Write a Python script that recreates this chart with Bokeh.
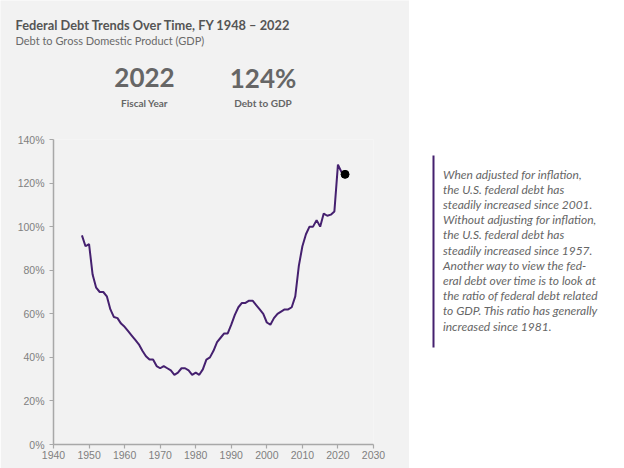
from bokeh.plotting import figure
from bokeh.layouts import row, column
from bokeh.models import Range1d, FixedTicker, PrintfTickFormatter
from bokeh.core.properties import value
from bokeh.embed import file_html
from bokeh.resources import INLINE

# ---------------- data ----------------
years = list(range(1948, 2023))
debt_to_gdp = [96, 91, 92, 78, 72, 70, 70, 68, 62, 58.5,
               58, 55.5, 54, 52, 50, 48, 46, 43, 40.5, 39,
               39, 36, 35, 36, 35, 34, 32, 33, 35, 35,
               34, 32, 33, 32, 34.5, 39, 40, 43, 47, 49,
               51, 51, 55, 59.5, 63, 65, 65, 66, 66, 64,
               62, 60, 56, 55, 58, 60, 61, 62, 62, 63,
               68, 82, 91, 96.5, 100, 100, 103, 100, 106, 105,
               105.5, 107, 128.5, 125, 124]
x_ticks = [1940, 1950, 1960, 1970, 1980, 1990, 2000, 2010, 2020, 2030]
y_ticks = [0, 20, 40, 60, 80, 100, 120, 140]

title_text = "Federal Debt Trends Over Time, FY 1948 \u2013 2022"
subtitle_text = "Debt to Gross Domestic Product (GDP)"
stat_values = ["2022", "124%"]
stat_labels = ["Fiscal Year", "Debt to GDP"]
note_lines = [
    "When adjusted for inflation,",
    "the U.S. federal debt has",
    "steadily increased since 2001.",
    "Without adjusting for inflation,",
    "the U.S. federal debt has",
    "steadily increased since 1957.",
    "Another way to view the fed-",
    "eral debt over time is to look at",
    "the ratio of federal debt related",
    "to GDP. This ratio has generally",
    "increased since 1981.",
]

GREY = "#f2f2f2"
PURPLE = "#45206f"
FONT = "Lato"

LEFT_W, RIGHT_W, TOTAL_H, HEAD_H = 409, 215, 468, 120
B_LEFT, B_RIGHT, B_TOP, B_BOTTOM = 53, 36, 139, 24
OVERLAP = 1
CHART_H = TOTAL_H - HEAD_H + OVERLAP
CHART_TOP = B_TOP - HEAD_H + OVERLAP


def bare(w, h, xr, yr, bg, **kw):
    f = figure(width=w, height=h, x_range=xr, y_range=yr,
               output_backend="svg", toolbar_location=None,
               x_axis_location=None, y_axis_location=None,
               background_fill_color=bg, border_fill_color=bg,
               outline_line_color=None, **kw)
    f.grid.visible = False
    return f


# ---------------- header (left, grey) ----------------
head = bare(LEFT_W, HEAD_H, Range1d(0, LEFT_W), Range1d(HEAD_H, 0), GREY, min_border=0)
head.text(x=[15], y=[24], text=[title_text], text_font=value(FONT),
          text_font_style="bold", text_font_size="12.8px", text_color="#555555",
          text_baseline="middle", text_align="left")
head.text(x=[15], y=[40], text=[subtitle_text], text_font=value(FONT),
          text_font_size="11px", text_color="#6a6a6a",
          text_baseline="middle", text_align="left")
head.text(x=[144, 262.5], y=[77, 77], text=stat_values, text_font=value(FONT),
          text_font_style="bold", text_font_size="26px", text_color="#666666",
          text_baseline="middle", text_align="center")
head.text(x=[144, 262.5], y=[102, 102], text=stat_labels, text_font=value(FONT),
          text_font_style="bold", text_font_size="10px", text_color="#666666",
          text_baseline="middle", text_align="center")

head_right = bare(RIGHT_W, HEAD_H, Range1d(0, 1), Range1d(0, 1), "white", min_border=0)

# ---------------- chart ----------------
p = figure(width=LEFT_W, height=CHART_H,
           x_range=Range1d(1940, 2030), y_range=Range1d(0, 140),
           output_backend="svg", toolbar_location=None,
           min_border_left=B_LEFT, min_border_right=B_RIGHT,
           min_border_top=CHART_TOP, min_border_bottom=B_BOTTOM,
           background_fill_color=GREY, border_fill_color=GREY,
           outline_line_color=None)
p.grid.visible = False
p.xaxis.ticker = FixedTicker(ticks=x_ticks)
p.yaxis.ticker = FixedTicker(ticks=y_ticks)
p.yaxis.formatter = PrintfTickFormatter(format="%d%%")
for ax in (p.xaxis, p.yaxis):
    ax.axis_line_color = "#a8a8a8"
    ax.axis_line_width = 1.5
    ax.major_tick_line_color = "#a8a8a8"
    ax.major_tick_line_width = 1.2
    ax.major_tick_out = 4
    ax.major_tick_in = 0
    ax.minor_tick_line_color = None
    ax.major_label_text_font = "Liberation Sans"
    ax.major_label_text_font_size = "10.5px"
    ax.major_label_text_color = "#808080"
p.xaxis.major_label_standoff = 2
p.yaxis.major_label_standoff = 5

p.line(years, debt_to_gdp, line_color=PURPLE, line_width=2)
p.scatter([years[-1]], [debt_to_gdp[-1]], size=8, color="black")

# ---------------- side note ----------------
side = bare(RIGHT_W, CHART_H, Range1d(LEFT_W, LEFT_W + RIGHT_W),
            Range1d(TOTAL_H - B_BOTTOM, B_TOP), "white",
            min_border_left=0, min_border_right=0,
            min_border_top=CHART_TOP, min_border_bottom=B_BOTTOM)
side.segment(x0=[433], y0=[155], x1=[433], y1=[347], line_color=PURPLE, line_width=2)
side.text(x=[442.5] * len(note_lines),
          y=[173.5 + 15.2 * i for i in range(len(note_lines))],
          text=note_lines, text_font=value(FONT), text_font_style="italic",
          text_font_size="12px", text_color="#666666",
          text_baseline="middle", text_align="left")

layout = column(row(head, head_right, spacing=0),
                row(p, side, spacing=0, margin=(-OVERLAP, 0, 0, 0)), spacing=0)
open("out.html", "w").write(file_html(layout, INLINE))
